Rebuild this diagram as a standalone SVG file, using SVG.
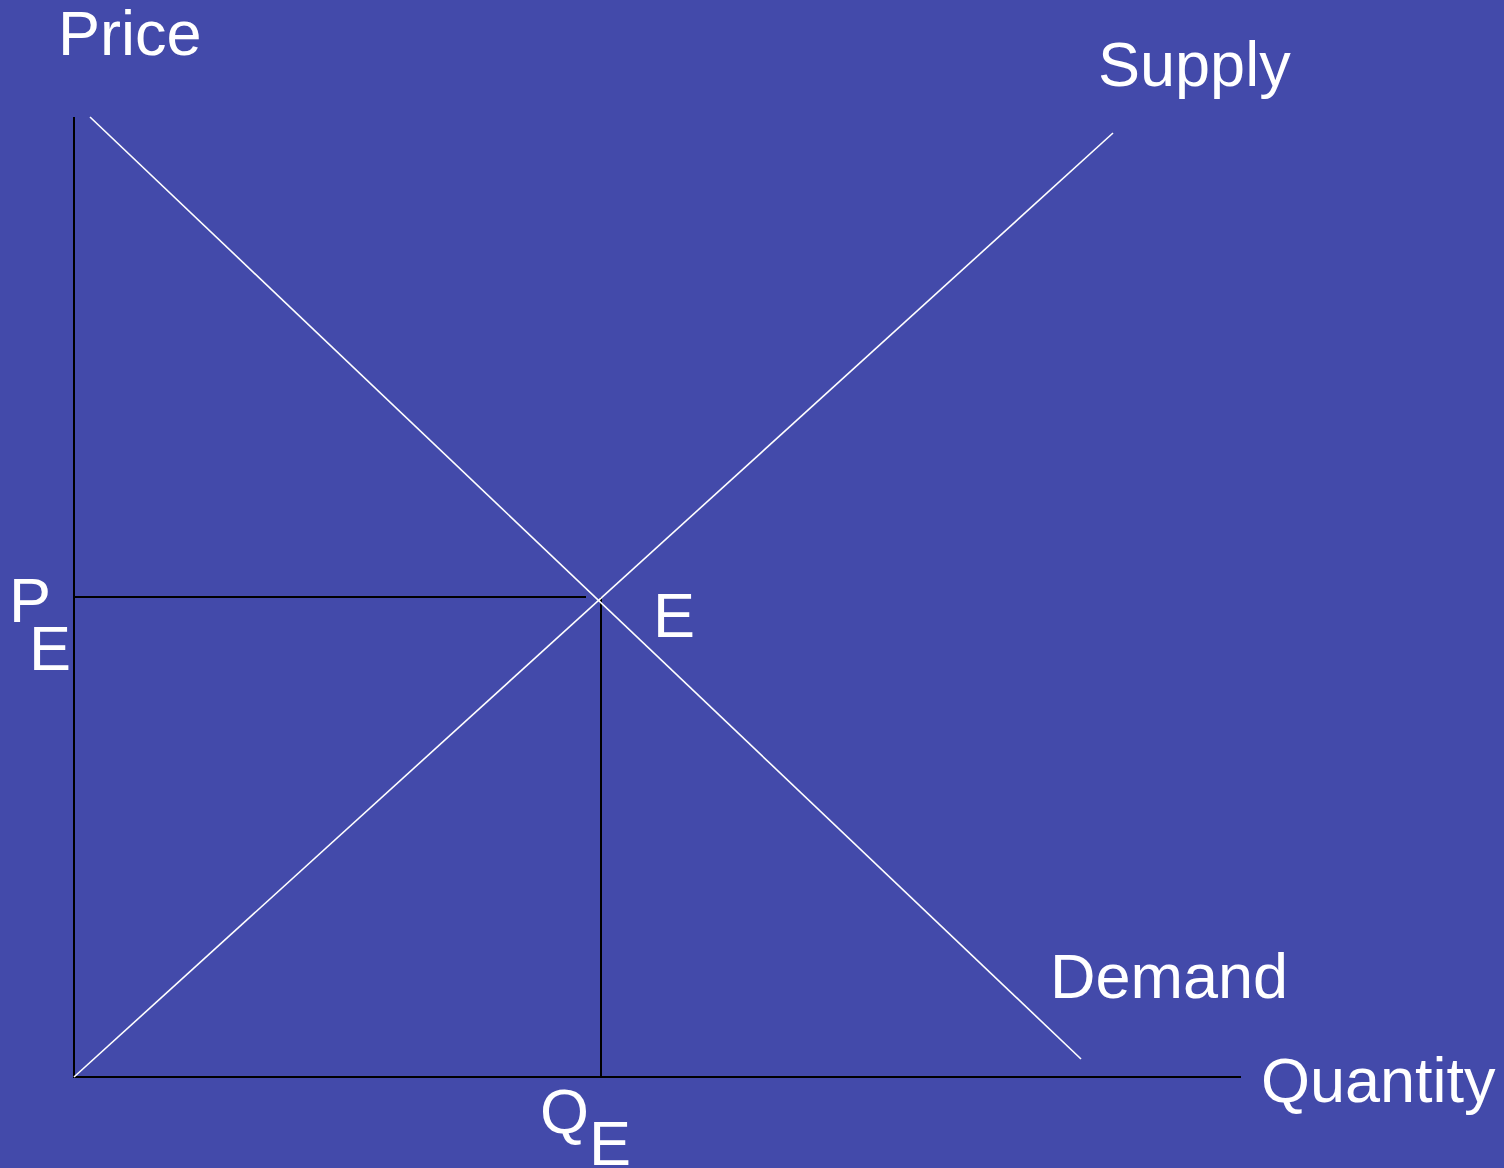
<svg xmlns="http://www.w3.org/2000/svg" width="1504" height="1168" viewBox="0 0 1504 1168">
<style>
.t{font-family:"Liberation Sans",Arial,sans-serif;font-size:63px;fill:#ffffff}
.ax{stroke:#000000;stroke-width:2;fill:none}
.cv{stroke:#ffffff;stroke-width:1.6;fill:none}
</style>
<rect x="0" y="0" width="1504" height="1168" fill="#434AAA"/>
<g id="connectors">
<line class="ax" x1="74" y1="117" x2="74" y2="1078"/>
<line class="ax" x1="73" y1="1077" x2="1241" y2="1077"/>
<line class="ax" x1="74" y1="597" x2="586" y2="597"/>
<line class="ax" x1="601" y1="597" x2="601" y2="1077"/>
<line class="cv" x1="90" y1="117" x2="1081" y2="1059"/>
<line class="cv" x1="74" y1="1077" x2="1113" y2="133"/>
</g>
<g id="price"><text class="t" x="58" y="55">Price</text></g>
<g id="supply"><text class="t" x="1098" y="86">Supply</text></g>
<g id="demand"><text class="t" x="1050" y="998">Demand</text></g>
<g id="quantity"><text class="t" x="1261" y="1102">Quantity</text></g>
<g id="e"><text class="t" x="653" y="637">E</text></g>
<g id="pe"><text class="t" x="9" y="622">P</text><text class="t" x="29" y="670">E</text></g>
<g id="qe"><text class="t" x="540" y="1133">Q</text><text class="t" x="589" y="1165">E</text></g>
</svg>
